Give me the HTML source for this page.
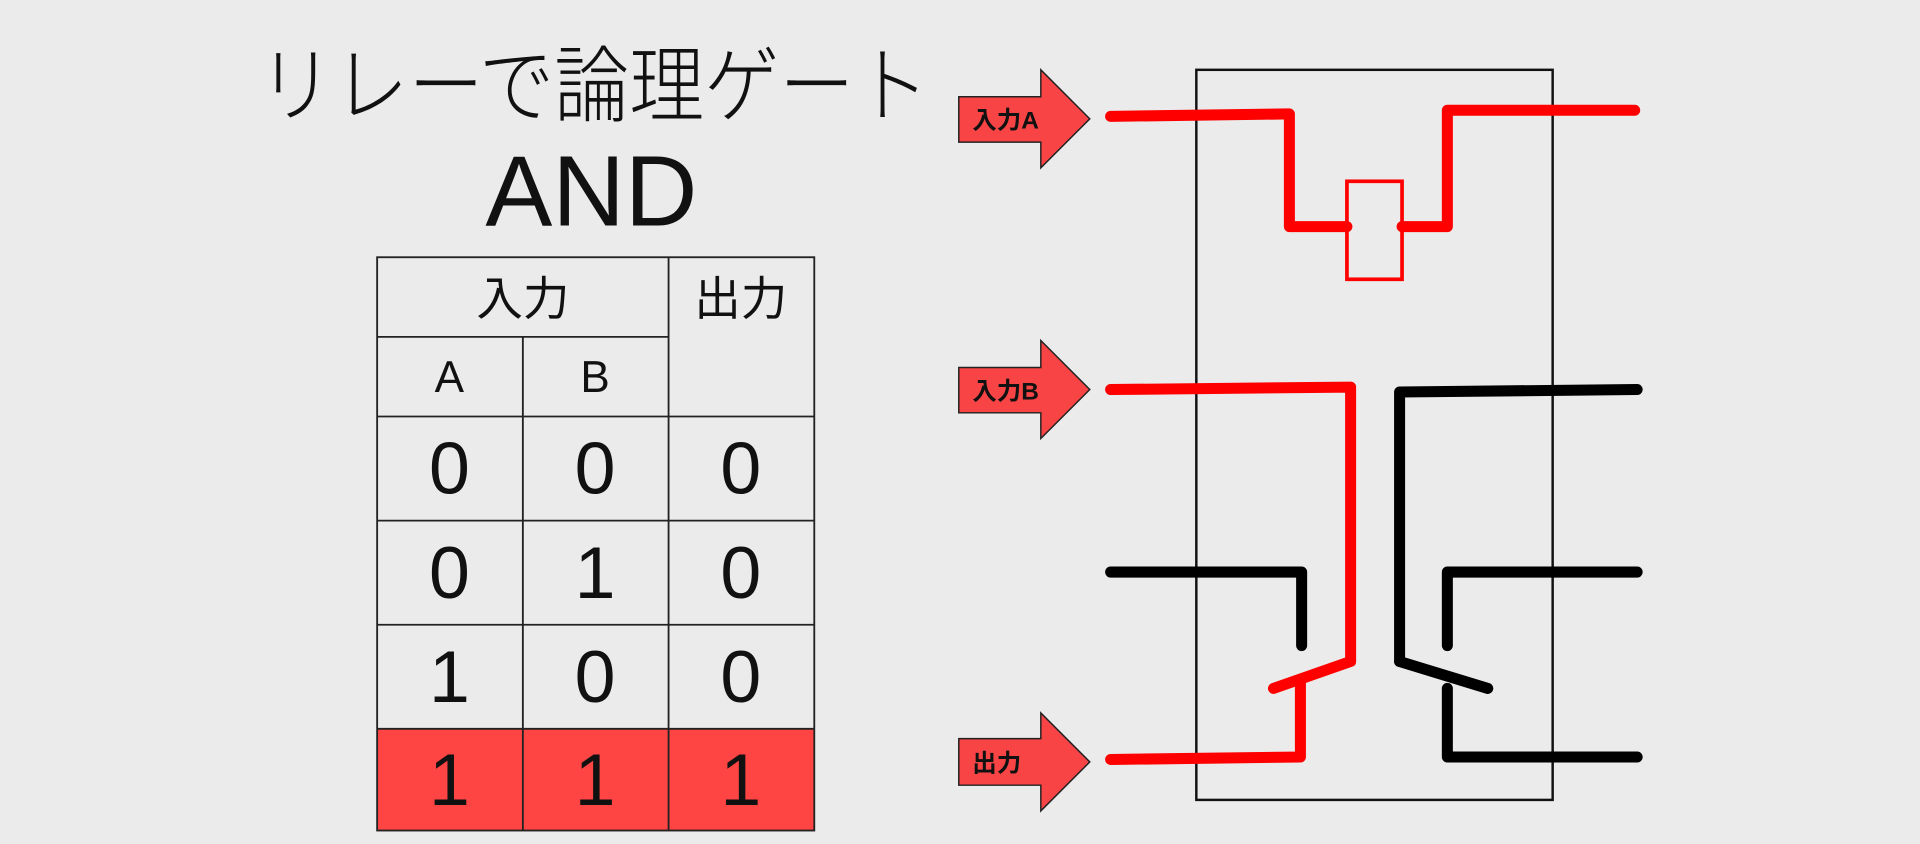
<!DOCTYPE html>
<html><head><meta charset="utf-8"><style>
html,body{margin:0;padding:0;background:#ebebeb;}
svg{display:block;}
text{font-family:"Liberation Sans","Noto Sans CJK JP",sans-serif;fill:#111;}
</style></head><body>
<svg width="1920" height="844" viewBox="0 0 1568 689" preserveAspectRatio="none" xmlns="http://www.w3.org/2000/svg">
<rect width="1568" height="689" fill="#ebebeb"/>
<text x="485" y="94" font-size="68" text-anchor="middle" font-weight="300" textLength="548" lengthAdjust="spacingAndGlyphs">リレーで論理ゲート</text>
<text x="483" y="184" font-size="82" text-anchor="middle">AND</text>
<!-- table -->
<rect x="308" y="595" width="357" height="83" fill="#ff4444"/>
<g stroke="#222" stroke-width="1.5" fill="none">
<rect x="308" y="210" width="357" height="468"/>
<line x1="308" y1="275" x2="546" y2="275"/>
<line x1="308" y1="340" x2="665" y2="340"/>
<line x1="308" y1="425" x2="665" y2="425"/>
<line x1="308" y1="510" x2="665" y2="510"/>
<line x1="308" y1="595" x2="665" y2="595"/>
<line x1="546" y1="210" x2="546" y2="678"/>
<line x1="427" y1="275" x2="427" y2="678"/>
</g>
<g font-size="38" text-anchor="middle">
<text x="427" y="257">入力</text>
<text x="605" y="257">出力</text>
<text x="367" y="320" font-size="36">A</text>
<text x="486" y="320" font-size="36">B</text>
</g>
<g font-size="60" text-anchor="middle">
<text x="367" y="403">0</text><text x="486" y="403">0</text><text x="605" y="403">0</text>
<text x="367" y="488">0</text><text x="486" y="488">1</text><text x="605" y="488">0</text>
<text x="367" y="573">1</text><text x="486" y="573">0</text><text x="605" y="573">0</text>
<text x="367" y="657">1</text><text x="486" y="657">1</text><text x="605" y="657">1</text>
</g>
<!-- arrows -->
<g fill="#f84444" stroke="#222" stroke-width="1.2">
<polygon points="783,79 850,79 850,57 890,97 850,137 850,116 783,116"/>
<polygon points="783,300 850,300 850,278 890,318 850,358 850,337 783,337"/>
<polygon points="783,603 850,603 850,582 890,622 850,662 850,641 783,641"/>
</g>
<g font-size="20" font-weight="bold">
<text x="794" y="105">入力A</text>
<text x="794" y="326">入力B</text>
<text x="794" y="630">出力</text>
</g>
<!-- box -->
<rect x="977" y="57" width="291" height="596" fill="none" stroke="#111" stroke-width="2"/>
<!-- red -->
<g fill="none" stroke="#ff0000" stroke-width="9" stroke-linecap="round" stroke-linejoin="round">
<polyline points="907,95 1053,93 1053,185 1100,185"/>
<polyline points="1145,185 1182,185 1182,90 1335,90"/>
<polyline points="907,318 1103,316 1103,540 1040,562"/>
<polyline points="1062,558 1062,618 907,620"/>
</g>
<rect x="1100" y="148" width="45" height="80" fill="none" stroke="#ff0000" stroke-width="3"/>
<!-- black -->
<g fill="none" stroke="#000" stroke-width="9" stroke-linecap="round" stroke-linejoin="round">
<polyline points="1143,540 1143,320 1337,318"/>
<line x1="1143" y1="540" x2="1215" y2="562"/>
<polyline points="907,467 1063,467 1063,527"/>
<polyline points="1337,467 1182,467 1182,527"/>
<polyline points="1182,562 1182,618 1337,618"/>
</g>
</svg>
</body></html>
